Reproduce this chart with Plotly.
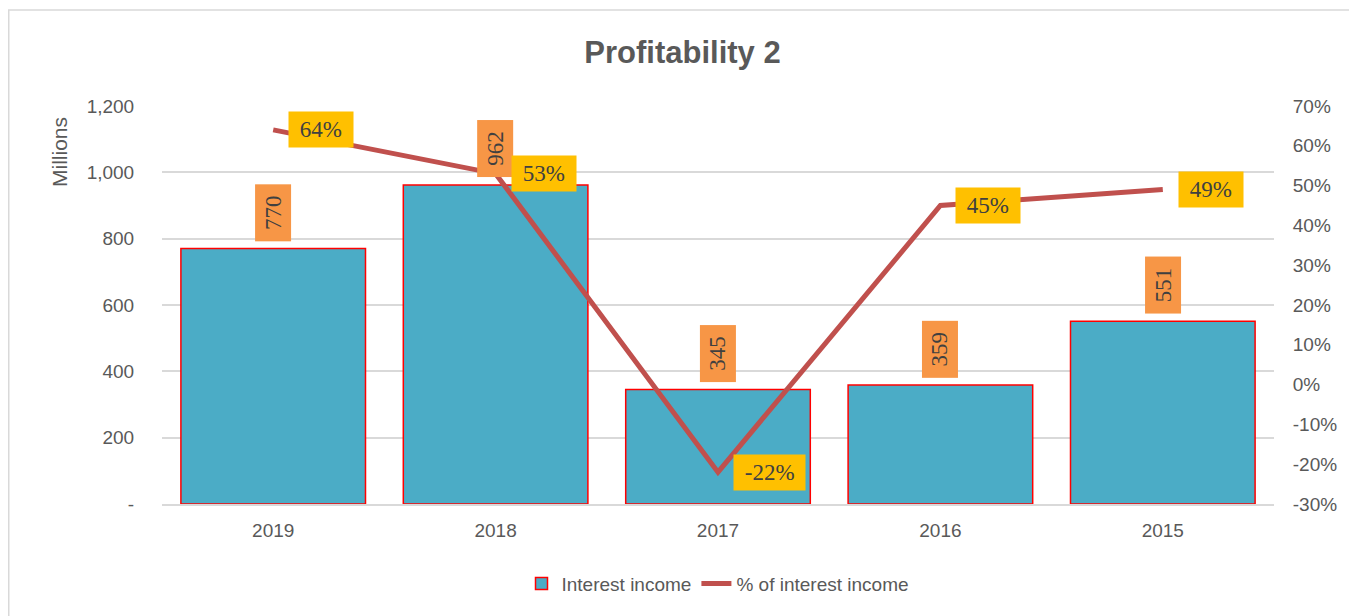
import plotly.graph_objects as go

years = ["2019", "2018", "2017", "2016", "2015"]
interest_income = [770, 962, 345, 359, 551]
pct_interest = [0.64, 0.53, -0.22, 0.45, 0.49]
left_ticks = [0, 200, 400, 600, 800, 1000, 1200]
left_ticktext = ["-", "200", "400", "600", "800", "1,000", "1,200"]
right_ticks = [-0.3, -0.2, -0.1, 0, 0.1, 0.2, 0.3, 0.4, 0.5, 0.6, 0.7]
right_ticktext = ["-30%", "-20%", "-10%", "0%", "10%", "20%", "30%", "40%", "50%", "60%", "70%"]

SANS = "Liberation Sans, Arial"
SERIF = "Georgia, Liberation Serif, serif"
GRAY = "#595959"
NB = "\u00a0"

W, H = 1349, 608
L, R, T, B = 154, 83, 98, 112
PW, PH = W - L - R, H - T - B

fig = go.Figure()
fig.add_trace(go.Bar(
    x=years, y=interest_income, name="Interest income",
    marker=dict(color="#4BACC6", line=dict(color="#FF0000", width=1.5)),
    yaxis="y",
))
fig.add_trace(go.Scatter(
    x=years, y=pct_interest, name="% of interest income",
    mode="lines", line=dict(color="#C0504D", width=5),
    yaxis="y2",
))

annotations = []
# category axis: annotations placed by category index
for i, v in enumerate(interest_income):
    annotations.append(dict(
        x=i, y=v, xref="x", yref="y", text=f"{NB}{v:,}{NB}", showarrow=False,
        textangle=-90, yanchor="bottom", xanchor="center", yshift=7,
        bgcolor="#F79646", borderpad=5,
        font=dict(family=SERIF, size=23, color="#404040"),
    ))
for i, p in enumerate(pct_interest):
    annotations.append(dict(
        x=i, y=p, xref="x", yref="y2", text=f"{NB}{round(p*100)}%{NB}", showarrow=False,
        xanchor="left", yanchor="middle", xshift=15,
        bgcolor="#FFC000", borderpad=5,
        font=dict(family=SERIF, size=23, color="#404040"),
    ))
annotations.append(dict(
    x=(52 - L) / PW, y=(T + PH - 144) / PH, xref="paper", yref="paper",
    text="Millions", showarrow=False, textangle=-90,
    xanchor="center", yanchor="middle",
    font=dict(family=SANS, size=21, color=GRAY),
))

fig.update_layout(
    width=W, height=H,
    margin=dict(l=L, r=R, t=T, b=B),
    paper_bgcolor="white", plot_bgcolor="white",
    title=dict(text="<b>Profitability 2</b>", x=0.5, xanchor="center",
               y=1 - 44 / H, yanchor="middle",
               font=dict(family=SANS, size=31, color=GRAY)),
    font=dict(family=SANS, size=19, color=GRAY),
    bargap=0.17,
    xaxis=dict(type="category", categoryorder="array", categoryarray=years,
               range=[-0.5, len(years) - 0.5],
               showgrid=False, showline=True, linecolor="#D9D9D9", linewidth=1.5,
               tickfont=dict(size=19, color=GRAY),
               ticks="outside", ticklen=8, tickcolor="rgba(0,0,0,0)"),
    yaxis=dict(range=[0, 1200], tickvals=left_ticks, ticktext=left_ticktext,
               showgrid=True, gridcolor="#D9D9D9", gridwidth=1.5, zeroline=False,
               tickfont=dict(size=19, color=GRAY),
               ticks="outside", ticklen=23, tickcolor="rgba(0,0,0,0)"),
    yaxis2=dict(range=[-0.3, 0.7], tickvals=right_ticks, ticktext=right_ticktext,
                overlaying="y", side="right", showgrid=False, zeroline=False,
                tickfont=dict(size=19, color=GRAY),
                ticks="outside", ticklen=14, tickcolor="rgba(0,0,0,0)"),
    legend=dict(orientation="h", x=0.5, xanchor="center", y=-0.2, yanchor="middle",
                font=dict(size=19, color=GRAY)),
    annotations=annotations,
    shapes=[dict(type="rect", xref="paper", yref="paper",
                 x0=(0.75 - L) / PW, x1=(1345 - L) / PW, y0=-0.4, y1=(T + PH - 2) / PH,
                 line=dict(color="#D9D9D9", width=1.5), layer="below")],
)

fig.write_html("out.html")
